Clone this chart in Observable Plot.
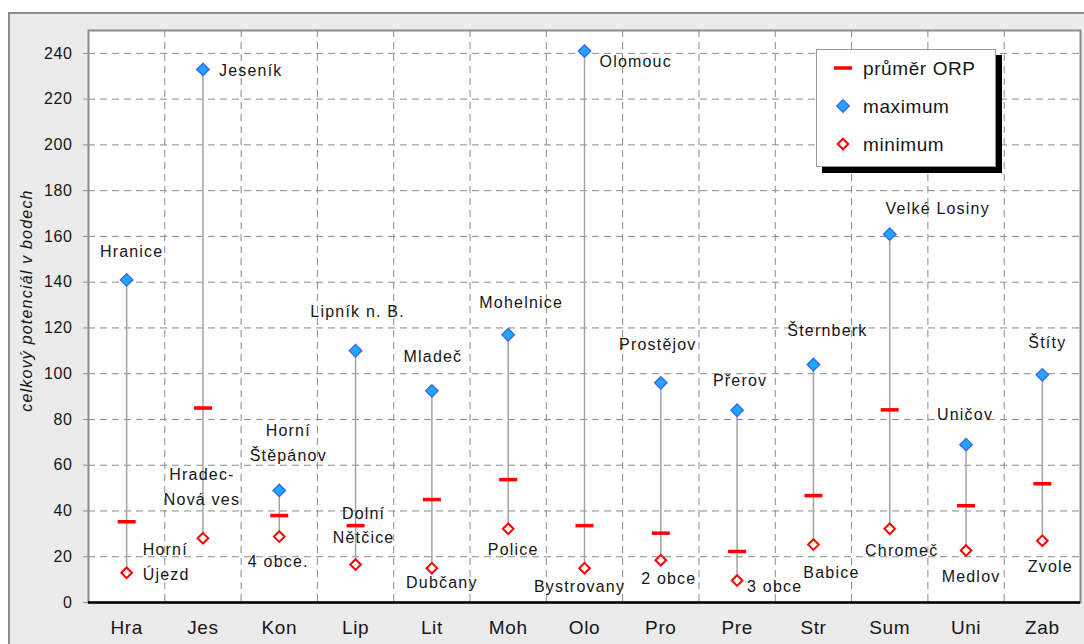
<!DOCTYPE html>
<html><head><meta charset="utf-8">
<script src="https://cdn.jsdelivr.net/npm/d3@7"></script>
<script src="https://cdn.jsdelivr.net/npm/@observablehq/plot@0.6"></script>
<style>
body{margin:0;background:#fff;font-family:"Liberation Sans",Arial,sans-serif;}
#wrap{position:relative;width:1084px;height:644px;overflow:hidden;}
#panel{position:absolute;left:8px;top:12px;width:1200px;height:800px;background:#ebebeb;border:2px solid #8c8c8c;box-sizing:border-box;}
#chart{position:absolute;left:0;top:0;}
#chart svg text{letter-spacing:0.6px;}
#chart svg g[aria-label="text"] text{letter-spacing:1.2px;}
#legend{position:absolute;left:816px;top:49px;width:180px;height:118px;background:#fff;border:1px solid #999;box-shadow:6px 6px 0 #000;box-sizing:border-box;}
#legend svg{display:block;}
</style>
</head><body>
<div id="wrap"><div id="panel"></div><div id="chart"></div><div id="legend"></div></div>
<script>
// ---- data ----
const categories = ["Hra","Jes","Kon","Lip","Lit","Moh","Olo","Pro","Pre","Str","Sum","Uni","Zab"];
const maxValues = [141, 233, 49, 110, 92.5, 117, 241, 96, 84, 104, 161, 69, 99.5];
const avgValues = [35.3, 85, 38, 33.6, 45, 53.7, 33.6, 30.3, 22.3, 46.7, 84.2, 42.3, 51.9];
const minValues = [13, 28.1, 28.8, 16.6, 15, 32.2, 15, 18.5, 9.6, 25.3, 32.2, 22.7, 27];
const maxNames = ["Hranice","Jeseník","Horní\nŠtěpánov","Lipník n. B.","Mladeč","Mohelnice","Olomouc","Prostějov","Přerov","Šternberk","Velké Losiny","Uničov","Štíty"];
const minNames = ["Horní\nÚjezd","Hradec-\nNová ves","4 obce.","Dolní\nNětčice","Dubčany","Police","Bystrovany","2 obce","3 obce","Babice","Chromeč","Medlov","Zvole"];
const yTicks = [0,20,40,60,80,100,120,140,160,180,200,220,240];
const yLabel = "celkový potenciál v bodech";
const legendLabels = ["průměr ORP","maximum","minimum"];

// ---- label layout (pixel offsets from the point) ----
const maxLabelLayout = [
  {dx:5,dy:-27,a:"middle"},{dx:16,dy:2,a:"start"},{dx:9,dy:-46,a:"middle"},{dx:2,dy:-38,a:"middle"},
  {dx:1,dy:-33,a:"middle"},{dx:13,dy:-31,a:"middle"},{dx:15,dy:11,a:"start"},{dx:-3,dy:-37,a:"middle"},
  {dx:3,dy:-29,a:"middle"},{dx:14,dy:-33,a:"middle"},{dx:48,dy:-25,a:"middle"},{dx:-1,dy:-29,a:"middle"},
  {dx:5,dy:-31,a:"middle"}];
const minLabelLayout = [
  {dx:16,dy:-10,a:"start"},{dx:-1,dy:-50,a:"middle"},{dx:-1,dy:26,a:"middle"},{dx:8,dy:-38,a:"middle"},
  {dx:10,dy:15,a:"middle"},{dx:5,dy:22,a:"middle"},{dx:-5,dy:19,a:"middle"},{dx:8,dy:19,a:"middle"},
  {dx:10,dy:7,a:"start"},{dx:18,dy:29,a:"middle"},{dx:12,dy:23,a:"middle"},{dx:5,dy:27,a:"middle"},
  {dx:8,dy:27,a:"middle"}];
const baselineShift = -3.5;

const rows = categories.map((c,i)=>({c, x:i+0.5, max:maxValues[i], avg:avgValues[i], min:minValues[i], maxName:maxNames[i], minName:minNames[i]}));

const dashSymbol = {draw(ctx){ ctx.moveTo(-9,0); ctx.lineTo(9,0); }};
const textColor = "#161616";

const labelMarks = rows.flatMap((d,i)=>[
  Plot.text([d], {x:"x", y:"max", text:"maxName", dx:maxLabelLayout[i].dx, dy:maxLabelLayout[i].dy+baselineShift, textAnchor:maxLabelLayout[i].a, fontSize:16, lineHeight:1.55, fill:textColor}),
  Plot.text([d], {x:"x", y:"min", text:"minName", dx:minLabelLayout[i].dx, dy:minLabelLayout[i].dy+baselineShift, textAnchor:minLabelLayout[i].a, fontSize:16, lineHeight:1.55, fill:textColor})
]);

const chart = Plot.plot({
  width:1084, height:644,
  marginLeft:88, marginRight:4, marginTop:30, marginBottom:42,
  style:{background:"transparent", fontFamily:"'Liberation Sans', Arial, sans-serif", color:textColor},
  x:{type:"linear", domain:[0,categories.length]},
  y:{domain:[0,250]},
  marks:[
    Plot.frame({fill:"white", stroke:null}),
    Plot.gridY(yTicks.filter(t=>t>0), {stroke:"#8a8a8a", strokeOpacity:1, strokeDasharray:"7,5"}),
    Plot.gridX(d3.range(1,categories.length), {stroke:"#8a8a8a", strokeOpacity:1, strokeDasharray:"7,5"}),
    Plot.ruleX(rows, {x:"x", y1:"min", y2:"max", stroke:"#a3a3a3", strokeWidth:1.5}),
    Plot.dot(rows, {x:"x", y:"avg", symbol:dashSymbol, r:5, stroke:"#ff0000", strokeWidth:3.5, fill:"none"}),
    Plot.dot(rows, {x:"x", y:"min", symbol:"diamond2", r:4.8, fill:"white", stroke:"#ff0000", strokeWidth:2}),
    Plot.dot(rows, {x:"x", y:"max", symbol:"diamond2", r:5.6, fill:"#1fa8ff", stroke:"#3a66f0", strokeWidth:1.4}),
    ...labelMarks,
    Plot.frame({stroke:"#8c8c8c", strokeWidth:2}),
    Plot.ruleY([0], {stroke:"#000", strokeWidth:2.5}),
    Plot.axisY({ticks:yTicks, tickSize:5, tickPadding:11, fontSize:16, stroke:"#8c8c8c", color:textColor, label:null}),
    Plot.axisX({ticks:rows.map(d=>d.x), tickFormat:v=>categories[Math.floor(v)], tickSize:0, tickPadding:18, fontSize:19, color:textColor, label:null}),
    Plot.text([yLabel], {frameAnchor:"left", rotate:-90, textAnchor:"middle", dx:-62, dy:-16, fontStyle:"italic", fontSize:16, fill:textColor})
  ]
});
document.getElementById("chart").appendChild(chart);

// ---- legend ----
const legendSymbols = [
  `<line x1="-9" y1="0" x2="9" y2="0" stroke="#ff0000" stroke-width="3.5"/>`,
  `<path d="M0,-6.2L6.2,0L0,6.2L-6.2,0Z" fill="#1fa8ff" stroke="#3a66f0" stroke-width="1.4"/>`,
  `<path d="M0,-5.3L5.3,0L0,5.3L-5.3,0Z" fill="white" stroke="#ff0000" stroke-width="2"/>`
];
let lg = `<svg width="178" height="116" font-family="'Liberation Sans', Arial, sans-serif">`;
legendLabels.forEach((lab,i)=>{
  const y = 18 + i*38;
  lg += `<g transform="translate(26,${y})">${legendSymbols[i]}</g>`;
  lg += `<text x="46" y="${y}" dy="0.35em" font-size="19" letter-spacing="0.6" fill="${textColor}">${lab}</text>`;
});
lg += `</svg>`;
document.getElementById("legend").innerHTML = lg;
</script>
</body></html>
